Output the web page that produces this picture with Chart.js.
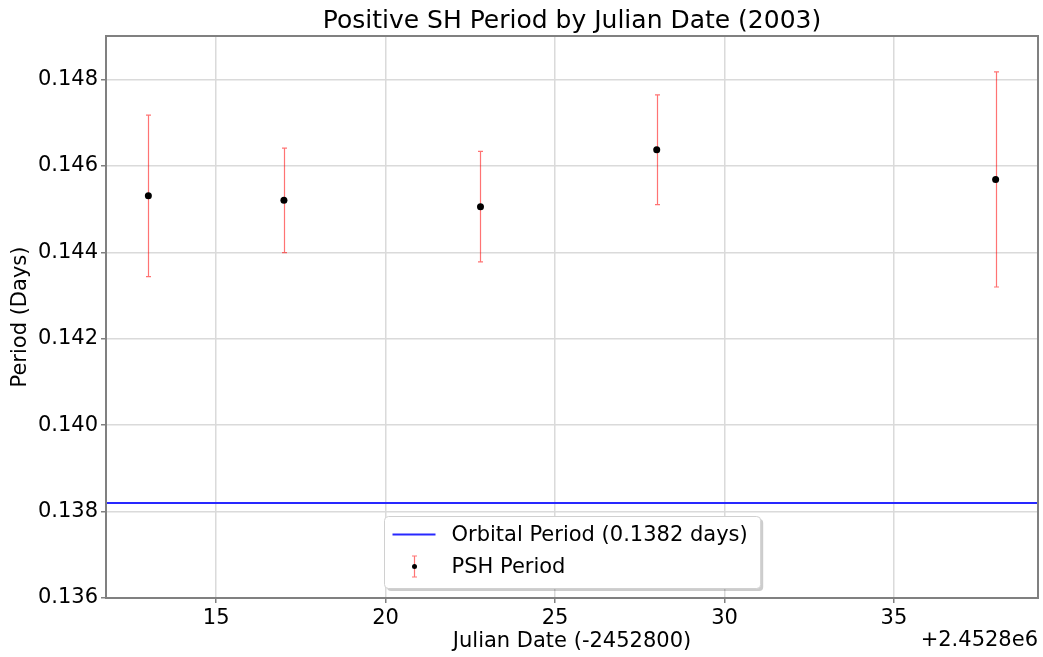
<!DOCTYPE html>
<html>
<head>
<meta charset="utf-8">
<title>Positive SH Period by Julian Date (2003)</title>
<script src="https://cdn.jsdelivr.net/npm/chart.js@4.4.0/dist/chart.umd.min.js"></script>
<style>
  html, body { margin: 0; padding: 0; background: #fff; }
  #wrap { width: 1043px; height: 657px; }
</style>
</head>
<body>
<div id="wrap"><canvas id="pshChart"></canvas></div>
<script>
// Julian date offsets (JD - 2452800) and measured superhump periods
const julianDates = [13, 17, 22.8, 28, 38];
const pshPeriods = [0.14531, 0.145205, 0.14506, 0.146375, 0.14569];
const pshErrors = [0.00187, 0.00121, 0.00128, 0.00127, 0.00249];
const orbitalPeriod = 0.1382;

// axis limits and ticks
const xLimits = [11.75, 39.25];
const yLimits = [0.136, 0.14901];
const xTicks = [15, 20, 25, 30, 35];
const yTicks = [0.136, 0.138, 0.140, 0.142, 0.144, 0.146, 0.148];
const offsetLabel = '+2.4528e6';

const FONT = 'DejaVu Sans';
Chart.defaults.font.family = FONT;
Chart.defaults.color = '#000';

const ERR_COLOR = 'rgba(255, 0, 0, 0.55)';
const LINE_COLOR = 'rgb(40, 40, 255)';
const TEXT_SIZE = 21;

/**
 * Vertical error bars with small caps, drawn under the points
 */
const errorBars = {
    id: 'errorBars',
    beforeDatasetsDraw(chart) {
        const { ctx, scales: { x, y } } = chart;
        ctx.save();
        ctx.strokeStyle = ERR_COLOR;
        ctx.lineWidth = 1.2;
        julianDates.forEach((d, i) => {
            const px = Math.round(x.getPixelForValue(d)) + 0.5;
            const top = y.getPixelForValue(pshPeriods[i] + pshErrors[i]);
            const bot = y.getPixelForValue(pshPeriods[i] - pshErrors[i]);
            ctx.beginPath();
            ctx.moveTo(px, top); ctx.lineTo(px, bot);
            ctx.moveTo(px - 2.5, top); ctx.lineTo(px + 2.5, top);
            ctx.moveTo(px - 2.5, bot); ctx.lineTo(px + 2.5, bot);
            ctx.stroke();
        });
        ctx.restore();
    }
};

/**
 * Axes frame on all four sides plus the offset text
 */
const frame = {
    id: 'frame',
    afterDatasetsDraw(chart) {
        const { ctx, chartArea: a } = chart;
        ctx.save();
        ctx.strokeStyle = '#808080';
        ctx.lineWidth = 2;
        ctx.strokeRect(a.left, a.top, a.right - a.left, a.bottom - a.top);
        ctx.fillStyle = '#000';
        ctx.font = `${TEXT_SIZE}px "${FONT}"`;
        ctx.textAlign = 'right';
        ctx.textBaseline = 'middle';
        ctx.fillText(offsetLabel, a.right, 641);
        ctx.restore();
    }
};

/**
 * Legend box at lower centre of the plot, like matplotlib's loc='best'
 */
const innerLegend = {
    id: 'innerLegend',
    afterDraw(chart) {
        const { ctx, chartArea: a } = chart;
        const labels = chart.data.datasets.map(ds => ds.label);
        ctx.save();
        ctx.font = `${TEXT_SIZE}px "${FONT}"`;
        const textW = Math.max(...labels.map(t => ctx.measureText(t).width));
        const w = 67 + textW + 13;
        const h = 72;
        const left = Math.round((a.left + a.right) / 2 - w / 2) + 0.5;
        const top = Math.round(a.bottom - 10 - h) + 0.5;

        // shadow
        ctx.fillStyle = 'rgba(0, 0, 0, 0.2)';
        ctx.beginPath();
        ctx.roundRect(left + 2.5, top + 2.5, w, h, 4);
        ctx.fill();
        // box
        ctx.fillStyle = '#fff';
        ctx.strokeStyle = '#d0d0d0';
        ctx.lineWidth = 1;
        ctx.beginPath();
        ctx.roundRect(left, top, w, h, 4);
        ctx.fill();
        ctx.stroke();

        // row 1: orbital period line
        const r1 = top + 18;
        ctx.strokeStyle = LINE_COLOR;
        ctx.lineWidth = 2;
        ctx.beginPath();
        ctx.moveTo(left + 8, r1); ctx.lineTo(left + 51, r1);
        ctx.stroke();

        // row 2: error bar marker
        const r2 = top + 50;
        const mx = left + 30;
        ctx.strokeStyle = ERR_COLOR;
        ctx.lineWidth = 1.2;
        ctx.beginPath();
        ctx.moveTo(mx, r2 - 10.5); ctx.lineTo(mx, r2 + 10.5);
        ctx.moveTo(mx - 2.5, r2 - 10.5); ctx.lineTo(mx + 2.5, r2 - 10.5);
        ctx.moveTo(mx - 2.5, r2 + 10.5); ctx.lineTo(mx + 2.5, r2 + 10.5);
        ctx.stroke();
        ctx.fillStyle = '#000';
        ctx.beginPath();
        ctx.arc(mx, r2, 2.5, 0, Math.PI * 2);
        ctx.fill();

        ctx.fillStyle = '#000';
        ctx.textAlign = 'left';
        ctx.textBaseline = 'middle';
        ctx.fillText(labels[0], left + 67, r1 + 1);
        ctx.fillText(labels[1], left + 67, r2 + 1);
        ctx.restore();
    }
};

const gridOpts = {
    color: '#dadada',
    lineWidth: 1.5,
    tickLength: 5,
    tickColor: '#808080',
    tickWidth: 1.5
};

new Chart(document.getElementById('pshChart'), {
    data: {
        datasets: [
            {
                type: 'line',
                label: 'Orbital Period (0.1382 days)',
                data: xLimits.map(x => ({ x, y: orbitalPeriod })),
                borderColor: LINE_COLOR,
                borderWidth: 2,
                pointRadius: 0,
                fill: false
            },
            {
                type: 'scatter',
                label: 'PSH Period',
                data: julianDates.map((x, i) => ({ x, y: pshPeriods[i] })),
                backgroundColor: '#000',
                borderColor: '#000',
                borderWidth: 0,
                pointRadius: 3.5
            }
        ]
    },
    options: {
        responsive: true,
        maintainAspectRatio: false,
        animation: false,
        layout: { padding: { left: 0, right: 5, top: 0, bottom: 0 } },
        plugins: {
            legend: { display: false },
            tooltip: { enabled: false },
            title: {
                display: true,
                fullSize: false,
                text: 'Positive SH Period by Julian Date (2003)',
                font: { size: 25, weight: 'normal' },
                color: '#000',
                padding: { top: 6, bottom: 0 }
            }
        },
        scales: {
            x: {
                type: 'linear',
                min: xLimits[0],
                max: xLimits[1],
                afterBuildTicks: s => { s.ticks = xTicks.map(v => ({ value: v })); },
                afterFit: s => { s.height = 59; },
                grid: gridOpts,
                border: { display: false },
                ticks: {
                    font: { size: TEXT_SIZE },
                    color: '#000',
                    padding: 3,
                    maxRotation: 0,
                    callback: v => String(v)
                },
                title: {
                    display: true,
                    text: 'Julian Date (-2452800)',
                    font: { size: TEXT_SIZE },
                    color: '#000',
                    padding: { top: 0, bottom: 3 }
                }
            },
            y: {
                type: 'linear',
                min: yLimits[0],
                max: yLimits[1],
                afterBuildTicks: s => { s.ticks = yTicks.map(v => ({ value: v })); },
                afterFit: s => { s.width = 106; },
                grid: gridOpts,
                border: { display: false },
                ticks: {
                    font: { size: TEXT_SIZE },
                    color: '#000',
                    padding: 3,
                    callback: v => v.toFixed(3)
                },
                title: {
                    display: true,
                    text: 'Period (Days)',
                    font: { size: TEXT_SIZE },
                    color: '#000',
                    padding: { top: 8, bottom: 0 }
                }
            }
        }
    },
    plugins: [errorBars, frame, innerLegend]
});
</script>
</body>
</html>
